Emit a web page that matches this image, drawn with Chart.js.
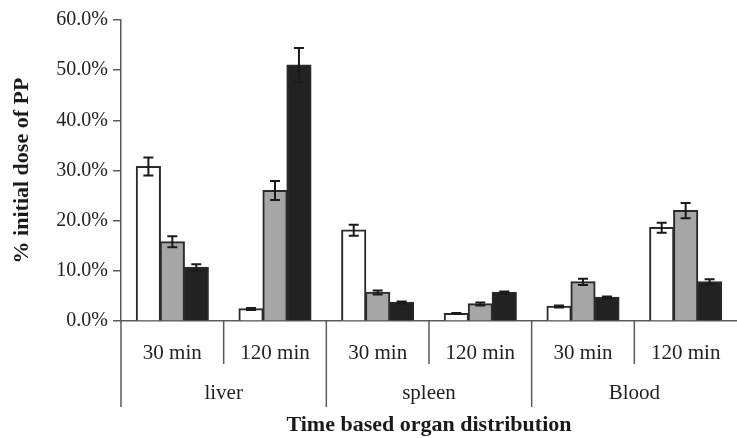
<!DOCTYPE html>
<html>
<head>
<meta charset="utf-8">
<script src="https://cdn.jsdelivr.net/npm/chart.js@4"></script>
<style>
  body { margin: 0; background: #fff; }
</style>
</head>
<body>
<canvas id="chart" width="737" height="438"></canvas>
<script>
// inner categories (time) and outer groups (organ)
const timeLabels = ['30 min', '120 min', '30 min', '120 min', '30 min', '120 min'];
const organLabels = ['liver', 'spleen', 'Blood'];

// % initial dose, three series (white / grey / black bars)
const whiteValues = [30.8, 2.4, 18.1, 1.5, 2.9, 18.6];
const whiteErrors = [1.8, 0.2, 1.1, 0.1, 0.2, 1.0];
const greyValues = [15.8, 26.0, 5.7, 3.4, 7.8, 22.0];
const greyErrors = [1.1, 1.9, 0.4, 0.3, 0.6, 1.5];
const blackValues = [10.7, 51.0, 3.7, 5.7, 4.7, 7.8];
const blackErrors = [0.6, 3.4, 0.2, 0.2, 0.2, 0.5];

const yTicks = [0, 10, 20, 30, 40, 50, 60];

const FONT = 'Liberation Serif, Times New Roman, serif';
const AXIS = '#5a5a5a';

// error bars drawn on top of the bars
const errorBars = {
  id: 'errorBars',
  afterDatasetsDraw(chart) {
    const ctx = chart.ctx;
    const y = chart.scales.y;
    ctx.save();
    ctx.strokeStyle = '#1a1a1a';
    ctx.lineWidth = 2;
    chart.data.datasets.forEach((ds, di) => {
      const meta = chart.getDatasetMeta(di);
      meta.data.forEach((bar, i) => {
        const v = ds.data[i];
        const e = ds.errors[i];
        const top = y.getPixelForValue(v + e);
        const bot = y.getPixelForValue(v - e);
        ctx.beginPath();
        ctx.moveTo(bar.x, top); ctx.lineTo(bar.x, bot);
        ctx.moveTo(bar.x - 5, top); ctx.lineTo(bar.x + 5, top);
        ctx.moveTo(bar.x - 5, bot); ctx.lineTo(bar.x + 5, bot);
        ctx.stroke();
      });
    });
    ctx.restore();
  }
};

// two level category axis: time labels, organ labels and separators
const groupAxis = {
  id: 'groupAxis',
  afterDraw(chart) {
    const ctx = chart.ctx;
    const xs = chart.scales.x;
    const base = chart.chartArea.bottom;
    const w = (xs.right - xs.left) / timeLabels.length;
    ctx.save();
    ctx.strokeStyle = AXIS;
    ctx.lineWidth = 1.5;
    for (let k = 0; k < timeLabels.length; k++) {
      const x = xs.left + k * w;
      const len = k % 2 === 0 ? 86 : 43;
      ctx.beginPath();
      ctx.moveTo(x, base);
      ctx.lineTo(x, base + len);
      ctx.stroke();
    }
    ctx.fillStyle = '#222';
    ctx.font = '21px ' + FONT;
    ctx.textAlign = 'center';
    ctx.textBaseline = 'middle';
    timeLabels.forEach((t, i) => {
      ctx.fillText(t, xs.getPixelForValue(i), base + 32);
    });
    organLabels.forEach((t, g) => {
      const cx = (xs.getPixelForValue(g * 2) + xs.getPixelForValue(g * 2 + 1)) / 2;
      ctx.fillText(t, cx, base + 72);
    });
    ctx.restore();
  }
};

new Chart(document.getElementById('chart'), {
  type: 'bar',
  data: {
    labels: timeLabels,
    datasets: [
      { data: whiteValues, errors: whiteErrors, backgroundColor: '#ffffff' },
      { data: greyValues, errors: greyErrors, backgroundColor: '#a6a6a6' },
      { data: blackValues, errors: blackErrors, backgroundColor: '#222222' }
    ]
  },
  options: {
    responsive: false,
    animation: false,
    layout: { padding: { top: 20, right: 0, left: 0, bottom: 0 } },
    datasets: {
      bar: {
        borderColor: '#2a2a2a',
        borderWidth: 2,
        borderSkipped: 'start',
        inflateAmount: 0.6,
        categoryPercentage: 0.7,
        barPercentage: 1
      }
    },
    plugins: {
      legend: { display: false },
      tooltip: { enabled: false }
    },
    scales: {
      x: {
        grid: { display: false },
        border: { display: true, color: AXIS, width: 1.5 },
        ticks: { display: false },
        title: {
          display: true,
          text: 'Time based organ distribution',
          color: '#1a1a1a',
          font: { family: FONT, size: 22, weight: 'bold' },
          padding: { top: 0, bottom: -1 }
        },
        afterFit(scale) { scale.height = 117; }
      },
      y: {
        min: 0,
        max: 60,
        afterBuildTicks(scale) { scale.ticks = yTicks.map(v => ({ value: v })); },
        grid: { drawOnChartArea: false, drawTicks: true, tickLength: 8, color: AXIS, lineWidth: 1.5 },
        border: { display: true, color: AXIS, width: 1.5 },
        ticks: {
          padding: 5,
          color: '#222',
          font: { family: FONT, size: 20 },
          callback: v => v.toFixed(1) + '%'
        },
        title: {
          display: true,
          text: '% initial dose of PP',
          color: '#1a1a1a',
          font: { family: FONT, size: 22, weight: 'bold' },
          padding: { top: 9, bottom: 0 }
        },
        afterFit(scale) { scale.width = 121; }
      }
    }
  },
  plugins: [errorBars, groupAxis]
});
</script>
</body>
</html>
